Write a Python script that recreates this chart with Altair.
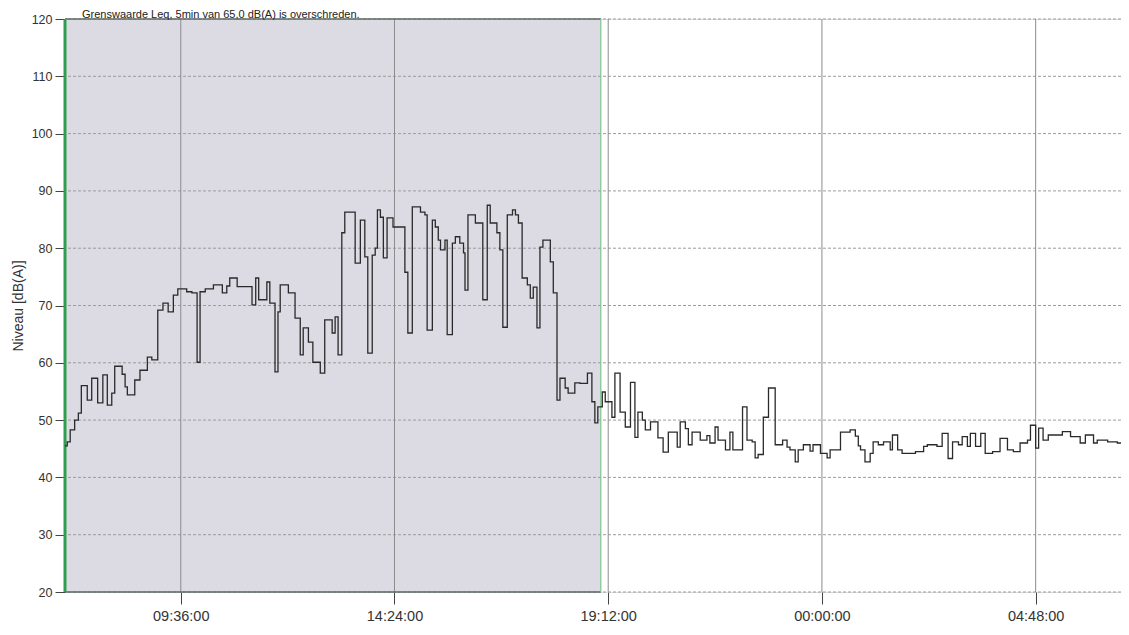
import altair as alt
import pandas as pd

# minutes after 07:00 (start of each 5-min Leq step) and level in dB(A)
minutes = [0, 3, 7, 13, 18, 22, 30, 36, 44, 51, 57, 63, 67, 77, 81, 84, 94, 101, 111, 117,
           125, 132, 139, 146, 152, 164, 171, 178, 182, 189, 200, 212, 218, 222, 232, 252, 257, 261, 272, 276,
           283, 287, 290, 301, 310, 317, 321, 328, 334, 344, 350, 360, 364, 368, 373, 377, 391, 398, 404, 408,
           414, 418, 421, 425, 429, 434, 442, 458, 462, 468, 479, 485, 488, 495, 499, 503, 506, 512, 515, 522,
           526, 532, 537, 539, 543, 553, 563, 569, 573, 582, 586, 590, 596, 603, 607, 611, 616, 623, 627, 631,
           636, 640, 644, 654, 658, 663, 667, 674, 678, 687, 694, 704, 710, 714, 718, 724, 728, 737, 741, 748,
           755, 762, 768, 772, 778, 782, 789, 799, 806, 813, 825, 829, 836, 840, 845, 856, 865, 869, 876, 880,
           890, 896, 900, 913, 919, 926, 930, 934, 941, 948, 957, 967, 973, 977, 984, 988, 995, 1004, 1008, 1018,
           1027, 1031, 1045, 1058, 1065, 1069, 1072, 1078, 1085, 1089, 1096, 1103, 1112, 1115, 1122, 1128, 1146, 1157, 1162, 1175,
           1182, 1190, 1196, 1204, 1209, 1216, 1220, 1227, 1234, 1240, 1250, 1260, 1270, 1278, 1287, 1297, 1301, 1308, 1312, 1318,
           1325, 1344, 1355, 1368, 1375, 1386, 1391, 1405, 1418, 1423]
level = [45.5, 46.2, 48.3, 50.0, 51.2, 56.0, 53.5, 57.3, 53.0, 57.9, 52.6, 54.7, 59.4, 58.0, 55.8, 54.4, 57.0, 58.7, 61.0, 60.5,
         69.2, 70.4, 68.9, 71.8, 72.9, 72.4, 72.2, 60.1, 72.4, 72.9, 73.6, 72.2, 73.4, 74.8, 73.3, 70.1, 74.8, 71.0, 74.1, 70.4,
         58.4, 68.9, 73.6, 72.2, 67.8, 61.4, 66.1, 63.6, 60.1, 58.2, 67.5, 65.2, 68.0, 61.4, 82.7, 86.3, 77.4, 84.9, 78.5, 61.7,
         78.8, 80.0, 86.7, 85.4, 78.3, 85.3, 83.7, 75.8, 65.2, 87.2, 86.3, 85.8, 65.7, 84.9, 83.7, 81.4, 79.7, 81.4, 64.9, 80.9,
         82.0, 80.9, 79.2, 72.7, 85.8, 84.4, 71.0, 87.5, 84.4, 82.7, 79.7, 66.2, 85.8, 86.7, 85.8, 84.4, 74.8, 73.6, 71.3, 73.2,
         66.1, 80.2, 81.4, 77.6, 72.2, 53.5, 57.3, 55.6, 54.7, 56.5, 56.4, 58.2, 53.2, 49.5, 52.3, 54.9, 53.2, 50.5, 58.2, 51.4,
         48.8, 56.6, 47.0, 51.4, 50.0, 48.3, 49.7, 46.9, 44.4, 47.9, 45.3, 49.7, 48.5, 45.7, 47.9, 46.5, 47.3, 46.0, 48.8, 46.5,
         44.8, 47.9, 44.8, 52.3, 46.5, 46.2, 43.4, 44.0, 50.5, 55.6, 45.7, 46.5, 45.3, 44.8, 42.7, 44.8, 45.7, 44.6, 45.7, 44.2,
         43.4, 44.8, 47.9, 48.3, 47.2, 45.5, 44.8, 42.7, 44.2, 46.2, 45.7, 46.2, 44.8, 47.4, 44.8, 44.2, 44.5, 45.4, 45.7, 45.4,
         47.7, 43.3, 46.2, 45.7, 47.1, 45.4, 47.7, 45.4, 47.7, 44.2, 44.5, 46.8, 44.8, 44.5, 46.0, 46.5, 49.1, 45.1, 48.6, 46.5,
         47.4, 48.0, 47.1, 46.0, 47.4, 46.0, 46.5, 46.2, 46.0, 46.0]

x_tick_minutes = [156, 444, 732, 1020, 1308]   # 09:36, 14:24, 19:12, 00:00, 04:48
y_ticks = [20, 30, 40, 50, 60, 70, 80, 90, 100, 110, 120]
shade_from, shade_to = 0, 722                  # 07:00 - 19:02 period
x_domain = [0, 1423]
y_domain = [20, 120]
title_text = "Grenswaarde Leq, 5min van 65,0 dB(A) is overschreden."

df = pd.DataFrame({"m": minutes, "level": level})
shade = pd.DataFrame({"a": [shade_from], "b": [shade_to], "lo": [y_domain[0]], "hi": [y_domain[1]]})
hgrid = pd.DataFrame({"v": y_ticks})
vgrid = pd.DataFrame({"m": x_tick_minutes})
title_df = pd.DataFrame({"t": [title_text]})

xs = alt.Scale(domain=x_domain, nice=False, zero=False)
ys = alt.Scale(domain=y_domain, nice=False, zero=False)
label_expr = "utcFormat((datum.value + 420) * 60000, '%H:%M:%S')"
FONT = "Liberation Sans"

rect = alt.Chart(shade).mark_rect(fill="#dcdbe3").encode(
    x=alt.X("a:Q", scale=xs), x2="b:Q", y=alt.Y("hi:Q", scale=ys), y2="lo:Q")

hg = alt.Chart(hgrid).mark_rule(color="#9c9c9c", strokeWidth=1, strokeDash=[3, 2]).encode(
    y=alt.Y("v:Q", scale=ys))

vg = alt.Chart(vgrid).mark_rule(color="#8c8c8c", strokeWidth=1).encode(
    x=alt.X("m:Q", scale=xs))

edges = alt.Chart(shade).mark_rule(color="#5d6b60", strokeWidth=1.5).encode(
    x=alt.X("a:Q", scale=xs), x2="b:Q", y=alt.Y("hi:Q", scale=ys))
edges_b = alt.Chart(shade).mark_rule(color="#5d6b60", strokeWidth=1.5).encode(
    x=alt.X("a:Q", scale=xs), x2="b:Q", y=alt.Y("lo:Q", scale=ys))
left_green = alt.Chart(shade).mark_rule(color="#2f9e4f", strokeWidth=3).encode(
    x=alt.X("a:Q", scale=xs), y=alt.Y("hi:Q", scale=ys), y2="lo:Q")
right_green = alt.Chart(shade).mark_rule(color="#7cc58f", strokeWidth=1.2).encode(
    x=alt.X("b:Q", scale=xs), y=alt.Y("hi:Q", scale=ys), y2="lo:Q")

title = alt.Chart(title_df).mark_text(
    align="left", baseline="alphabetic", fontSize=11, font=FONT, color="#222"
).encode(text="t:N", x=alt.value(17), y=alt.value(-1.5))

line = alt.Chart(df).mark_line(interpolate="step-after", color="#2a2a2a", strokeWidth=1.3).encode(
    x=alt.X("m:Q", scale=xs, title=None,
            axis=alt.Axis(values=x_tick_minutes, labelExpr=label_expr, grid=False, domain=False,
                          tickSize=12, tickColor="#444", labelPadding=5, labelFontSize=14.5,
                          labelColor="#333", labelFont=FONT)),
    y=alt.Y("level:Q", scale=ys, title="Niveau [dB(A)]",
            axis=alt.Axis(values=y_ticks, grid=False, domain=False, tickSize=10, tickColor="#444",
                          labelPadding=3, labelFontSize=12.5, labelColor="#333", labelFont=FONT,
                          titleFont=FONT, titleFontSize=14, titleFontWeight="normal",
                          titleColor="#333", titlePadding=6)),
)

chart = alt.layer(rect, hg, vg, edges, edges_b, left_green, right_green, line, title).properties(
    width=1056, height=573,
    autosize=alt.AutoSizeParams(type="none"),
    padding={"left": 57, "top": 11, "right": 0, "bottom": 30},
).configure_view(stroke=None).configure(background="white")

chart.save("out.html", embed_options={"renderer": "svg", "actions": False})
